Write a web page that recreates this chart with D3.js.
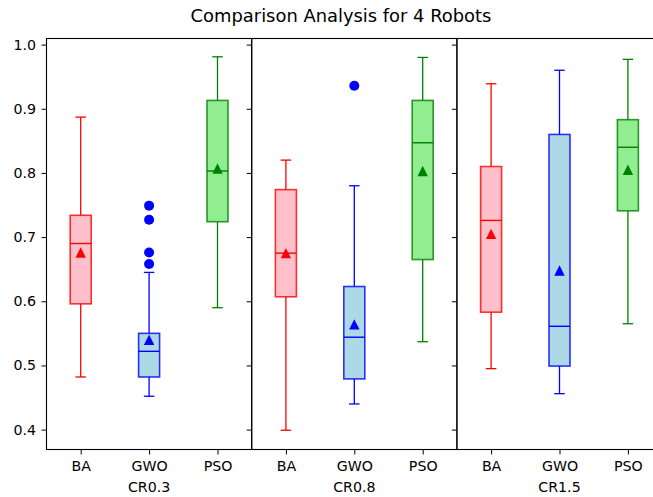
<!DOCTYPE html>
<html>
<head>
<meta charset="utf-8">
<script src="https://cdn.jsdelivr.net/npm/d3@7"></script>
<style>
  html, body { margin: 0; padding: 0; background: #fff; overflow: hidden; }
  svg { display: block; font-family: "DejaVu Sans", sans-serif; }
</style>
</head>
<body>
<svg id="chart" width="653" height="497"></svg>
<script>
// Crossover-rate groups (one panel each) and algorithms (one box each)
const groups = ["CR0.3", "CR0.8", "CR1.5"];
const algorithms = ["BA", "GWO", "PSO"];
const yTicks = [0.4, 0.5, 0.6, 0.7, 0.8, 0.9, 1.0];

// Box statistics per algorithm, one value per group
const whiskerLow = {
  BA:  [0.482, 0.399, 0.495],
  GWO: [0.452, 0.440, 0.456],
  PSO: [0.590, 0.537, 0.565]
};
const q1 = {
  BA:  [0.596, 0.607, 0.583],
  GWO: [0.482, 0.479, 0.499],
  PSO: [0.724, 0.665, 0.741]
};
const median = {
  BA:  [0.690, 0.675, 0.726],
  GWO: [0.522, 0.544, 0.561],
  PSO: [0.803, 0.847, 0.840]
};
const q3 = {
  BA:  [0.734, 0.774, 0.810],
  GWO: [0.550, 0.623, 0.860],
  PSO: [0.913, 0.913, 0.883]
};
const whiskerHigh = {
  BA:  [0.887, 0.820, 0.939],
  GWO: [0.645, 0.780, 0.960],
  PSO: [0.981, 0.980, 0.977]
};
const means = {
  BA:  [0.676, 0.675, 0.705],
  GWO: [0.540, 0.564, 0.648],
  PSO: [0.807, 0.803, 0.805]
};
// Outliers: [group index, algorithm, value]
const outliers = [
  [0, "GWO", 0.749], [0, "GWO", 0.727], [0, "GWO", 0.676], [0, "GWO", 0.658],
  [1, "GWO", 0.936]
];

const edgeColor = { BA: "#ff0000", GWO: "#0000ff", PSO: "#008000" };
const fillColor = { BA: "#ffc0cb", GWO: "#add8e6", PSO: "#90ee90" };

const svg = d3.select("#chart");
const plotTop = 38.5, plotBottom = 449.5;
const panelLeft = 46.5, panelWidth = 205.2;

const y = d3.scaleLinear().domain([0.369, 1.0095]).range([plotBottom, plotTop]);

svg.append("text")
  .attr("x", 341).attr("y", 22)
  .attr("text-anchor", "middle")
  .style("font-size", "17.9px").attr("fill", "#000")
  .text("Comparison Analysis for 4 Robots");

const boxW = 21, capW = 10.5;

groups.forEach((g, gi) => {
  const x0 = panelLeft + gi * panelWidth, x1 = x0 + panelWidth;
  const x = d3.scalePoint().domain(algorithms).range([x0, x1]).padding(0.5);
  const panel = svg.append("g");

  // x axis
  const xa = panel.append("g").attr("transform", `translate(0,${plotBottom})`)
    .call(d3.axisBottom(x).tickSize(5).tickPadding(6.5).tickSizeOuter(0));
  xa.select(".domain").remove();
  xa.selectAll("line").attr("stroke", "#000").attr("stroke-width", 1);
  xa.selectAll("text").style("font-size", "14.2px").style("font-family", "DejaVu Sans").attr("fill", "#000");

  // y axis (labels only on the first panel)
  const ya = panel.append("g").attr("transform", `translate(${x0},0)`)
    .call(d3.axisLeft(y).tickValues(yTicks).tickSize(5).tickPadding(5.5)
      .tickFormat(gi === 0 ? d3.format(".1f") : () => ""));
  ya.select(".domain").remove();
  ya.selectAll("line").attr("stroke", "#000").attr("stroke-width", 1);
  ya.selectAll("text").style("font-size", "14.2px").style("font-family", "DejaVu Sans").attr("fill", "#000");

  // group label
  panel.append("text")
    .attr("x", (x0 + x1) / 2).attr("y", 492)
    .attr("text-anchor", "middle")
    .style("font-size", "14.2px").attr("fill", "#000")
    .text(g);

  algorithms.forEach(a => {
    const cx = x(a), col = edgeColor[a];
    const b = panel.append("g");
    // whiskers
    b.append("line").attr("x1", cx).attr("x2", cx)
      .attr("y1", y(q1[a][gi])).attr("y2", y(whiskerLow[a][gi]))
      .attr("stroke", col).attr("stroke-width", 1.3);
    b.append("line").attr("x1", cx).attr("x2", cx)
      .attr("y1", y(q3[a][gi])).attr("y2", y(whiskerHigh[a][gi]))
      .attr("stroke", col).attr("stroke-width", 1.3);
    // caps
    [whiskerLow[a][gi], whiskerHigh[a][gi]].forEach(v => {
      b.append("line").attr("x1", cx - capW / 2).attr("x2", cx + capW / 2)
        .attr("y1", y(v)).attr("y2", y(v))
        .attr("stroke", col).attr("stroke-width", 1.3);
    });
    // box
    b.append("rect")
      .attr("x", cx - boxW / 2).attr("width", boxW)
      .attr("y", y(q3[a][gi])).attr("height", y(q1[a][gi]) - y(q3[a][gi]))
      .attr("fill", fillColor[a]).attr("stroke", col).attr("stroke-width", 1.6)
      .attr("stroke-opacity", 0.8);
    // median
    b.append("line").attr("x1", cx - boxW / 2).attr("x2", cx + boxW / 2)
      .attr("y1", y(median[a][gi])).attr("y2", y(median[a][gi]))
      .attr("stroke", col).attr("stroke-width", 1.4);
    // mean marker
    const my = y(means[a][gi]), s = 5.2;
    b.append("path")
      .attr("d", `M${cx},${my - s}L${cx + s},${my + s}L${cx - s},${my + s}Z`)
      .attr("fill", col);
  });

  outliers.filter(o => o[0] === gi).forEach(o => {
    panel.append("circle")
      .attr("cx", x(o[1])).attr("cy", y(o[2])).attr("r", 5)
      .attr("fill", edgeColor[o[1]]);
  });

  // frame
  panel.append("rect")
    .attr("x", x0).attr("y", plotTop).attr("width", panelWidth).attr("height", plotBottom - plotTop)
    .attr("fill", "none").attr("stroke", "#000").attr("stroke-width", 1.1);
});
</script>
</body>
</html>
